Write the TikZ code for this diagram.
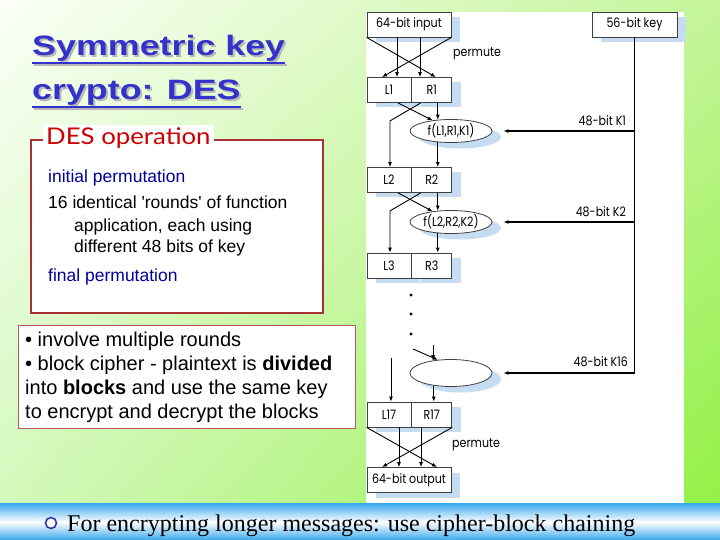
\documentclass[tikz,border=0pt]{standalone}
\usepackage{fontspec}
\setmainfont{Liberation Sans}
\newfontfamily\diagfont{Poppins}
\newfontfamily\handfont{Lato}
\newfontfamily\slidefont{Liberation Serif}
\usetikzlibrary{arrows.meta,positioning,calc,shapes.geometric,shadows,shadings}
\definecolor{desblue}{HTML}{3333CC}
\definecolor{desnavy}{HTML}{000099}
\definecolor{desred}{HTML}{CC0000}
\definecolor{desframe}{HTML}{A83232}
\definecolor{desshadow}{HTML}{C6DCF0}
\definecolor{bgwhite}{HTML}{FCFFF8}
\definecolor{bgright}{HTML}{C4F59A}
\definecolor{bgleft}{HTML}{D0F8B8}
\definecolor{bggreen}{HTML}{90F040}
\definecolor{bandblue}{HTML}{3AA8EE}
\newcommand{\dg}[1]{\scalebox{0.85}[1]{#1}}
\newcommand{\shadowed}[1]{\rlap{\color{black!28}\hspace{2pt}\raisebox{-2pt}{#1}}#1}
\tikzset{
  blk/.style={draw=black!75,fill=white,line width=0.8pt,minimum height=25pt,inner sep=0pt,font=\diagfont\fontsize{13}{13}\selectfont,
    drop shadow={shadow xshift=9pt,shadow yshift=-5pt,fill=desshadow,opacity=1}},
  halfl/.style={blk,minimum width=44pt},
  halfr/.style={blk,minimum width=40pt},
  fbox/.style={ellipse,draw=black!75,fill=white,line width=0.8pt,minimum width=82pt,minimum height=23pt,inner sep=0pt,font=\diagfont\fontsize{13}{13}\selectfont,
    drop shadow={shadow xshift=9pt,shadow yshift=-6pt,fill=desshadow,opacity=1}},
  ar/.style={-{Latex[length=5pt,width=4pt]},line width=0.9pt},
  keyar/.style={ar,line width=1.2pt},
  klabel/.style={font=\diagfont\fontsize{13}{13}\selectfont,inner sep=0pt},
  title/.style={anchor=base west,inner sep=0pt,text=desblue,font=\bfseries\fontsize{28}{28}\selectfont},
  txt/.style={anchor=base west,inner sep=0pt,font=\fontsize{17.5}{17.5}\selectfont},
  note/.style={anchor=base west,inner sep=0pt,font=\fontsize{20}{20}\selectfont},
}
\begin{document}
\begin{tikzpicture}[x=1pt,y=-1pt]
  \useasboundingbox (0,0) rectangle (720,540);
  \shade[upper left=bgwhite,upper right=bgright,lower left=bgleft,lower right=bggreen] (0,0) rectangle (720,540);
  \shade[top color=bandblue,bottom color=white] (0,503) rectangle (720,522);
  \shade[top color=white,bottom color=bandblue] (0,522) rectangle (720,540);
  \fill[white] (366,12) rectangle (684,503);

  \node[title] (t1) at (32,56) {\shadowed{\scalebox{1.28}[1]{Symmetric key}}};
  \node[title] (t2) at (32,100) {\shadowed{\scalebox{1.28}[1]{crypto: DES}}};
  \draw[black!28,line width=2pt] ($(t1.base west)+(2,9)$) -- ($(t1.base east)+(2,9)$);
  \draw[black!28,line width=2pt] ($(t2.base west)+(2,9)$) -- ($(t2.base east)+(2,9)$);
  \draw[desblue,line width=2pt] ($(t1.base west)+(0,7)$) -- ($(t1.base east)+(0,7)$);
  \draw[desblue,line width=2pt] ($(t2.base west)+(0,7)$) -- ($(t2.base east)+(0,7)$);

  \node[draw=desframe,line width=1.6pt,fill=white,minimum width=292pt,minimum height=173pt,inner sep=0pt,anchor=north west] (opbox) at (30,139) {};
  \node[fill=white,text=desred,inner sep=3pt,anchor=west,font=\handfont\fontsize{23}{23}\selectfont] (optitle) at (43,138) {\scalebox{1.12}[1]{DES operation}};
  \node[txt,text=desnavy] (ip) at (48,183) {initial permutation};
  \node[txt] (rounds1) at (48,209) {16 identical {\addfontfeature{Ligatures=TeXOff}'rounds'} of function};
  \node[txt] (rounds2) at (74,231) {application, each using};
  \node[txt] (rounds3) at (74,252) {different 48 bits of key};
  \node[txt,text=desnavy] (fp) at (48,281) {final permutation};

  \node[draw=desframe!80,line width=0.8pt,fill=white,minimum width=337pt,minimum height=103pt,inner sep=0pt,anchor=north west] (notes) at (18,325) {};
  \node[note] (n1) at (25,346) {\textbullet\ involve multiple rounds};
  \node[note] (n2) at (25,370) {\textbullet\ block cipher - plaintext is \textbf{divided}};
  \node[note] (n3) at (25,394) {into \textbf{blocks} and use the same key};
  \node[note] (n4) at (25,418) {to encrypt and decrypt the blocks};

  \node[circle,draw=desnavy!80,line width=1.6pt,fill=white,minimum size=11pt,inner sep=0pt] (bul) at (51,523) {};
  \node[anchor=base west,inner sep=0pt,font=\slidefont\fontsize{24}{24}\selectfont] (cbc) at (67,531) {For encrypting longer messages: use cipher-block chaining};

  \node[blk,minimum width=84pt] (inp) at (409,24.5) {\dg{64-bit input}};
  \node[blk,minimum width=85pt] (key) at (634.5,24.5) {\dg{56-bit key}};
  \node[halfl] (l1) at (389,90) {\dg{L1}};
  \node[halfr,right=0pt of l1] (r1) {\dg{R1}};
  \node[fbox] (f1) at (451,131) {\dg{f(L1,R1,K1)}};
  \node[halfl] (l2) at (389,180) {\dg{L2}};
  \node[halfr,right=0pt of l2] (r2) {\dg{R2}};
  \node[fbox] (f2) at (451,222) {\dg{f(L2,R2,K2)}};
  \node[halfl] (l3) at (389,265.5) {\dg{L3}};
  \node[halfr,right=0pt of l3] (r3) {\dg{R3}};
  \node[fbox,minimum height=27pt] (f16) at (451,373) {};
  \node[halfl] (l17) at (389,414.5) {\dg{L17}};
  \node[halfr,right=0pt of l17] (r17) {\dg{R17}};
  \node[blk,minimum width=84pt] (outp) at (409,480) {\dg{64-bit output}};
  \node[klabel,anchor=west] (perm1) at (453,54) {\dg{permute}};
  \node[klabel,anchor=west] (perm2) at (452,445) {\dg{permute}};

  \draw[ar] ($(inp.south)+(-12,0)$) -- ($(inp.south |- l1.north)+(-12,0)$);
  \draw[ar] ($(inp.south)+(11,0)$) -- ($(inp.south |- l1.north)+(11,0)$);
  \draw[ar] (inp.south west) -- ($(r1.north)+(4,0)$);
  \draw[ar] (inp.south east) -- ($(l1.north)+(-7,0)$);

  \draw[ar] ($(r1.south)+(6,0)$) -- ($(r1.south |- f1.north)+(6,0.6)$);
  \draw[ar] ($(l1.south)+(9,0)$) -- (f1.150);
  \draw[ar] ($(r1.south)+(-11,0)$) -- ($(l2.north |- r1.south)+(1,18)$) -- ($(l2.north)+(1,0)$);
  \draw[ar] ($(r2.north |- f1.south)+(6,-0.7)$) -- ($(r2.north)+(6,0)$);

  \draw[ar] ($(r2.south)+(6,0)$) -- ($(r2.south |- f2.north)+(6,0.6)$);
  \draw[ar] ($(l2.south)+(9,0)$) -- (f2.150);
  \draw[ar] ($(r2.south)+(-11,0)$) -- ($(l3.north |- r2.south)+(1,18)$) -- ($(l3.north)+(1,0)$);
  \draw[ar] ($(r3.north |- f2.south)+(6,-0.7)$) -- ($(r3.north)+(6,0)$);

  \foreach \y in {295,314,334} \fill (411,\y) circle (1.6pt);

  \coordinate (in16a) at (413,349);
  \coordinate (in16b) at (433,345);
  \coordinate (in16l) at (391,358);
  \draw[ar] (in16a) -- (f16.135);
  \draw[ar] (in16b) -- ($(in16b |- f16.north)+(0,1)$);
  \draw[ar] (in16l) -- (in16l |- l17.north);
  \draw[ar] ($(r17.north |- f16.south)+(2,-1.4)$) -- ($(r17.north)+(2,0)$);

  \draw[ar] ($(outp.north |- l17.south)+(-10,0)$) -- ($(outp.north)+(-10,0)$);
  \draw[ar] ($(outp.north |- l17.south)+(12,0)$) -- ($(outp.north)+(12,0)$);
  \draw[ar] (l17.south west) -- ($(outp.north)+(28,0)$);
  \draw[ar] (r17.south east) -- ($(outp.north)+(-27,0)$);

  \draw[keyar] (key.south) |- node[klabel,pos=0.5,above left=6pt and 6pt] {\dg{48-bit K16}} ($(f16.east)+(11,0)$);
  \draw[keyar] (key.south |- f1.east) node[klabel,above left=5pt and 8pt] {\dg{48-bit K1}} -- ($(f1.east)+(11,0)$);
  \draw[keyar] (key.south |- f2.east) node[klabel,above left=5pt and 8pt] {\dg{48-bit K2}} -- ($(f2.east)+(11,0)$);
\end{tikzpicture}
\end{document}
